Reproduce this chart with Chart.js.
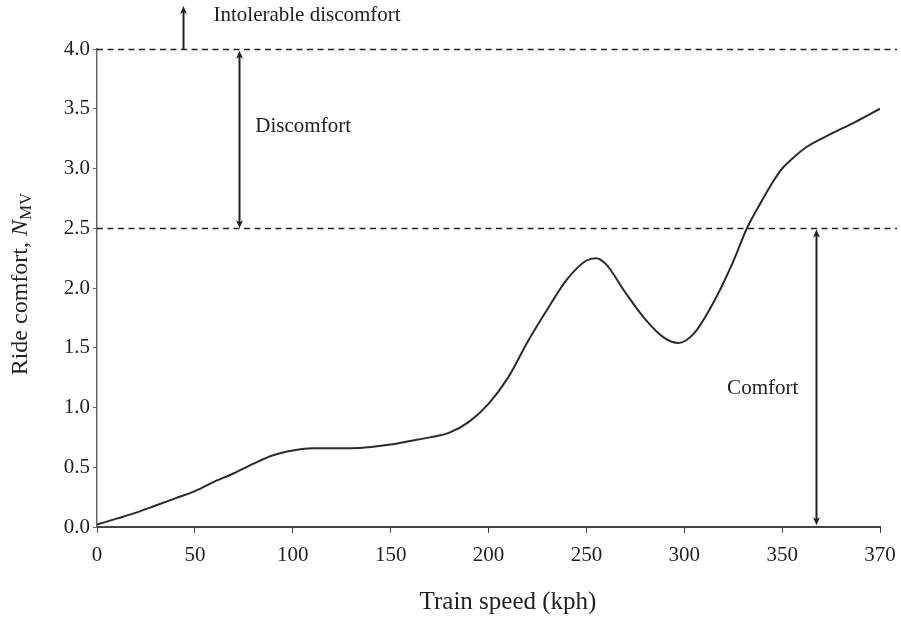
<!DOCTYPE html>
<html>
<head>
<meta charset="utf-8">
<script src="https://cdn.jsdelivr.net/npm/chart.js@4.4.1/dist/chart.umd.min.js"></script>
<style>
  html, body { margin: 0; padding: 0; background: #ffffff; }
  #wrap { width: 901px; height: 618px; position: relative; }
</style>
</head>
<body>
<div id="wrap"><canvas id="c" width="901" height="618"></canvas></div>
<script>
// ---- data ----
const speeds = [0, 10, 20, 30, 40, 50, 60, 70, 80, 90, 100, 110, 120, 130, 140, 150, 160, 170, 180, 190,
                200, 210, 220, 230, 240, 250, 255, 260, 270, 280, 290, 297, 305, 315, 325, 332, 340, 345, 350,
                352, 355, 360, 365, 370];
const rideComfort = [0.02, 0.07, 0.12, 0.18, 0.24, 0.30, 0.38, 0.45, 0.53, 0.60, 0.64, 0.66, 0.66, 0.66, 0.67, 0.69, 0.72, 0.75, 0.79, 0.88,
                     1.03, 1.25, 1.55, 1.82, 2.07, 2.23, 2.25, 2.20, 1.96, 1.74, 1.58, 1.54, 1.62, 1.88, 2.22, 2.50, 2.74, 2.88, 3.00,
                     3.08, 3.18, 3.29, 3.39, 3.50];
const xTickSpeeds = [0, 50, 100, 150, 200, 250, 300, 350, 370];
const xTickLabels = ['0', '50', '100', '150', '200', '250', '300', '350', '370'];
const yTickValues = [0, 0.5, 1.0, 1.5, 2.0, 2.5, 3.0, 3.5, 4.0];
const thresholds = [2.5, 4.0];
const zoneLabels = ['Intolerable discomfort', 'Discomfort', 'Comfort'];

// The reference axis spaces the last tick (370) one full step after 350.
function toAxis(s) { return s <= 350 ? s : 350 + (s - 350) * 2.5; }

const FONT = "'Liberation Serif', 'Times New Roman', serif";
const INK = '#222222';

const annot = {
  id: 'annot',
  afterDraw(chart) {
    const ctx = chart.ctx, xs = chart.scales.x, ys = chart.scales.y, ca = chart.chartArea;
    const X = v => xs.getPixelForValue(toAxis(v));
    const Y = v => ys.getPixelForValue(v);
    ctx.save();
    // threshold dashed lines
    ctx.strokeStyle = INK; ctx.lineWidth = 1.5; ctx.setLineDash([6, 4.5]);
    thresholds.forEach(t => {
      ctx.beginPath(); ctx.moveTo(ca.left, Math.round(Y(t)) + 0.5); ctx.lineTo(chart.width - 4, Math.round(Y(t)) + 0.5); ctx.stroke();
    });
    ctx.setLineDash([]);
    // arrows
    function head(x, y, dir) { // dir -1: points up, +1: points down
      ctx.beginPath();
      ctx.moveTo(x, y);
      ctx.lineTo(x - 3.5, y - dir * 8);
      ctx.lineTo(x, y - dir * 6);
      ctx.lineTo(x + 3.5, y - dir * 8);
      ctx.closePath(); ctx.fill();
    }
    function vArrow(xv, y1, y2, both) { // from y1 (low value) up to y2 (high value)
      const x = Math.round(X(xv)) + 0.5;
      const p1 = Y(y1), p2 = Y(y2);
      ctx.strokeStyle = INK; ctx.fillStyle = INK; ctx.lineWidth = 2;
      ctx.beginPath(); ctx.moveTo(x, p1 - (both ? 4 : 0)); ctx.lineTo(x, p2 + 4); ctx.stroke();
      head(x, p2, -1);
      if (both) head(x, p1, 1);
    }
    vArrow(44, 4.0, 4.36, false);
    vArrow(72.3, 2.5, 3.985, true);
    vArrow(356.9, 0.015, 2.49, true);
    // zone labels
    ctx.fillStyle = INK; ctx.font = '21px ' + FONT; ctx.textAlign = 'left'; ctx.textBaseline = 'middle';
    ctx.fillText(zoneLabels[0], X(59.5), Y(4.28));
    ctx.fillText(zoneLabels[1], X(80.9), Y(3.35));
    ctx.fillText(zoneLabels[2], X(321.9), Y(1.16));
    // x title
    ctx.font = '25px ' + FONT; ctx.textAlign = 'center';
    ctx.fillText('Train speed (kph)', 508, 602);
    // y title with italic N and subscript MV
    ctx.translate(19, 284); ctx.rotate(-Math.PI / 2);
    const p1 = 'Ride comfort, ', p2 = 'N', p3 = 'MV';
    ctx.font = '24px ' + FONT; const w1 = ctx.measureText(p1).width;
    ctx.font = 'italic 24px ' + FONT; const w2 = ctx.measureText(p2).width;
    ctx.font = '17px ' + FONT; const w3 = ctx.measureText(p3).width;
    let sx = -(w1 + w2 + w3) / 2;
    ctx.textAlign = 'left'; ctx.textBaseline = 'alphabetic';
    ctx.font = '24px ' + FONT; ctx.fillText(p1, sx, 8); sx += w1;
    ctx.font = 'italic 24px ' + FONT; ctx.fillText(p2, sx, 8); sx += w2;
    ctx.font = '17px ' + FONT; ctx.fillText(p3, sx, 12);
    ctx.restore();
  }
};

const xTickAxis = xTickSpeeds.map(toAxis);

new Chart(document.getElementById('c'), {
  type: 'line',
  data: {
    datasets: [{
      label: 'Ride comfort',
      data: speeds.map((s, i) => ({ x: toAxis(s), y: rideComfort[i] })),
      borderColor: '#2b2b2b',
      borderWidth: 2,
      pointRadius: 0,
      fill: false,
      cubicInterpolationMode: 'monotone'
    }]
  },
  options: {
    responsive: false,
    animation: false,
    events: [],
    layout: { padding: { left: 0, right: 21, top: 49, bottom: 0 } },
    plugins: { legend: { display: false }, tooltip: { enabled: false } },
    scales: {
      x: {
        type: 'linear',
        min: 0, max: toAxis(370),
        afterBuildTicks: s => { s.ticks = xTickAxis.map(v => ({ value: v })); },
        ticks: {
          autoSkip: false, maxRotation: 0, padding: 10, color: INK,
          font: { family: FONT, size: 21 },
          callback: v => { const i = xTickAxis.indexOf(v); return i >= 0 ? xTickLabels[i] : ''; }
        },
        grid: { drawOnChartArea: false, drawTicks: true, tickLength: 6, color: '#444' },
        border: { display: true, color: '#444', width: 2 },
        afterFit: s => { s.height = 91; s.paddingRight = 0; s.paddingLeft = 0; }
      },
      y: {
        type: 'linear',
        min: 0, max: 4,
        afterBuildTicks: s => { s.ticks = yTickValues.map(v => ({ value: v })); },
        ticks: {
          padding: 3, color: INK,
          font: { family: FONT, size: 21 },
          callback: v => Number(v).toFixed(1)
        },
        grid: { drawOnChartArea: false, drawTicks: true, tickLength: 4, color: '#666' },
        border: { display: true, color: '#666', width: 1.5 },
        afterFit: s => { s.width = 97; }
      }
    }
  },
  plugins: [annot]
});
</script>
</body>
</html>
